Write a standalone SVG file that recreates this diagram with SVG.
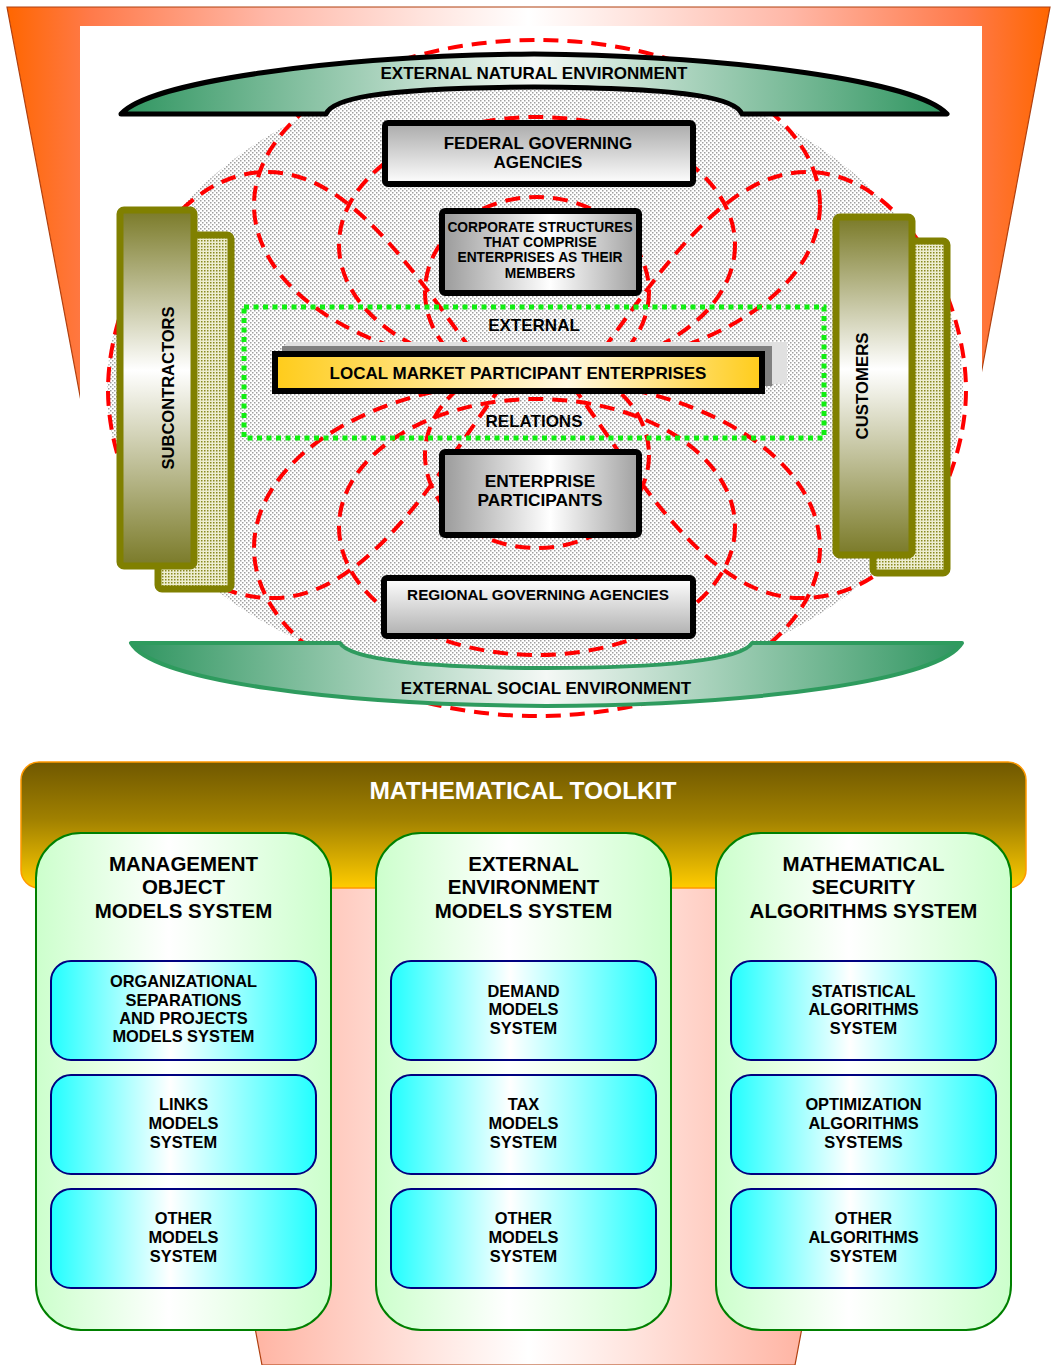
<svg xmlns="http://www.w3.org/2000/svg" width="1053" height="1365" viewBox="0 0 1053 1365">
<defs>
  <linearGradient id="gFunnel" x1="0" y1="0" x2="1" y2="0">
    <stop offset="0" stop-color="#FF6600"/>
    <stop offset="0.08" stop-color="#FF7A4A"/>
    <stop offset="0.25" stop-color="#FFB8A8"/>
    <stop offset="0.4" stop-color="#FFE4DE"/>
    <stop offset="0.5" stop-color="#FFFFFF"/>
    <stop offset="0.6" stop-color="#FFE4DE"/>
    <stop offset="0.75" stop-color="#FFB8A8"/>
    <stop offset="0.92" stop-color="#FF7A4A"/>
    <stop offset="1" stop-color="#FF6600"/>
  </linearGradient>
  <linearGradient id="gBand" x1="0" y1="0" x2="1" y2="0">
    <stop offset="0" stop-color="#2F9560"/>
    <stop offset="0.5" stop-color="#F4F8F5"/>
    <stop offset="1" stop-color="#2F9560"/>
  </linearGradient>
  <linearGradient id="gOlive" x1="0" y1="0" x2="0" y2="1">
    <stop offset="0" stop-color="#7A7A28"/>
    <stop offset="0.45" stop-color="#FFFFFF"/>
    <stop offset="1" stop-color="#7A7A28"/>
  </linearGradient>
  <linearGradient id="gGrayV" x1="0" y1="0" x2="0" y2="1">
    <stop offset="0" stop-color="#AAAAAA"/>
    <stop offset="1" stop-color="#FFFFFF"/>
  </linearGradient>
  <linearGradient id="gGrayVr" x1="0" y1="0" x2="0" y2="1">
    <stop offset="0" stop-color="#FFFFFF"/>
    <stop offset="1" stop-color="#B0B0B0"/>
  </linearGradient>
  <linearGradient id="gGrayH" x1="0" y1="0" x2="1" y2="0">
    <stop offset="0" stop-color="#9A9A9A"/>
    <stop offset="0.55" stop-color="#FFFFFF"/>
    <stop offset="1" stop-color="#A0A0A0"/>
  </linearGradient>
  <linearGradient id="gGold" x1="0" y1="0" x2="1" y2="0">
    <stop offset="0" stop-color="#FFCC1A"/>
    <stop offset="0.6" stop-color="#FFF8E0"/>
    <stop offset="1" stop-color="#FFCC1A"/>
  </linearGradient>
  <linearGradient id="gHeader" x1="0" y1="0" x2="0" y2="1">
    <stop offset="0" stop-color="#705800"/>
    <stop offset="0.45" stop-color="#A08000"/>
    <stop offset="1" stop-color="#FFCC00"/>
  </linearGradient>
  <linearGradient id="gPanel" x1="0" y1="0" x2="1" y2="0">
    <stop offset="0" stop-color="#CCFFCC"/>
    <stop offset="0.45" stop-color="#FFFFFF"/>
    <stop offset="1" stop-color="#CCFFCC"/>
  </linearGradient>
  <linearGradient id="gCyan" x1="0" y1="0" x2="1" y2="0">
    <stop offset="0" stop-color="#22FFFF"/>
    <stop offset="0.45" stop-color="#FFFFFF"/>
    <stop offset="1" stop-color="#22FFFF"/>
  </linearGradient>
  <pattern id="pDots" width="4" height="4" patternUnits="userSpaceOnUse">
    <rect width="4" height="4" fill="#FFFFFF"/>
    <rect x="0" y="0" width="1.5" height="1.5" fill="#A0A0A0"/>
    <rect x="2" y="2" width="1.5" height="1.5" fill="#A0A0A0"/>
  </pattern>
  <pattern id="pOlive" width="3" height="3" patternUnits="userSpaceOnUse">
    <rect width="3" height="3" fill="#EEEED0"/>
    <rect x="0" y="0" width="1.5" height="1.5" fill="#8A8A20"/>
  </pattern>
</defs>
<style>
  .t { font-family: "Liberation Sans", Arial, Helvetica, sans-serif; font-weight: bold; fill: #000; text-anchor: middle; }
  .dash { fill: none; stroke: #FF0000; stroke-width: 4; stroke-dasharray: 15 9; }
  .box { stroke: #000; stroke-width: 6; }
  .olive { stroke: #808000; stroke-width: 7; }
  .panel { fill: url(#gPanel); stroke: #008000; stroke-width: 2; }
  .cyan { fill: url(#gCyan); stroke: #000080; stroke-width: 2; }
</style>

<g id="background">
  <polygon points="7,7 1050,7 795,1365 262,1365" fill="url(#gFunnel)" stroke="#B04010" stroke-width="1.2"/>
  <rect x="80" y="26" width="902" height="754" fill="#FFFFFF"/>
  <path d="M 107,390 A 428,325 0 0 1 963,390 A 428,300 0 0 1 107,390 Z" fill="url(#pDots)"/>
</g>

<g id="connectors">
  <ellipse class="dash" cx="537" cy="205" rx="283" ry="165"/>
  <ellipse class="dash" cx="537" cy="548" rx="283" ry="168"/>
  <ellipse class="dash" cx="537" cy="245" rx="198" ry="128"/>
  <ellipse class="dash" cx="537" cy="527" rx="198" ry="128"/>
  <ellipse class="dash" cx="537" cy="292" rx="112" ry="95"/>
  <ellipse class="dash" cx="537" cy="455" rx="112" ry="93"/>
  <path class="dash" d="M 500,388 C 430,300 360,170 265,172 C 170,174 108,300 108,390 C 108,480 170,600 275,598 C 370,596 440,470 500,388 Z"/>
  <path class="dash" d="M 574,388 C 644,300 714,170 809,172 C 904,174 966,300 966,390 C 966,480 904,600 799,598 C 704,596 634,470 574,388 Z"/>
</g>

<g id="external-relations">
  <rect x="244" y="307" width="580" height="131" fill="none" stroke="#11EE11" stroke-width="5" stroke-dasharray="5 4.5"/>
  <text class="t" x="534" y="331" font-size="17">EXTERNAL</text>
  <text class="t" x="534" y="427" font-size="17">RELATIONS</text>
</g>

<g id="natural-environment">
  <path d="M 121,114 C 150,82 330,56 534,54 C 738,56 918,82 947,114 L 742,114 C 736,100 700,88 534,87 C 368,88 332,100 326,114 Z" fill="url(#gBand)" stroke="#000" stroke-width="5" stroke-linejoin="round"/>
  <text class="t" x="534" y="79" font-size="17">EXTERNAL NATURAL ENVIRONMENT</text>
</g>

<g id="social-environment">
  <path d="M 131,643 L 340,643 C 350,660 430,668 546,668 C 662,668 742,660 752,643 L 962,643 C 940,680 760,705 546,706 C 332,705 152,680 131,643 Z" fill="url(#gBand)" stroke="#2E9B5E" stroke-width="4" stroke-linejoin="round"/>
  <text class="t" x="546" y="694" font-size="17">EXTERNAL SOCIAL ENVIRONMENT</text>
</g>

<g id="subcontractors">
  <rect class="olive" x="158" y="235" width="73" height="354" rx="4" fill="url(#pOlive)"/>
  <rect class="olive" x="120" y="210" width="74" height="356" rx="4" fill="url(#gOlive)"/>
  <text class="t" font-size="16.5" transform="translate(168,388) rotate(-90)" y="6">SUBCONTRACTORS</text>
</g>

<g id="customers">
  <rect class="olive" x="873" y="241" width="74" height="332" rx="4" fill="url(#pOlive)"/>
  <rect class="olive" x="836" y="217" width="76" height="338" rx="4" fill="url(#gOlive)"/>
  <text class="t" font-size="16.8" transform="translate(862,386) rotate(-90)" y="6">CUSTOMERS</text>
</g>

<g id="federal">
  <rect class="box" x="385" y="123" width="308" height="61" rx="3" fill="url(#gGrayV)"/>
  <text class="t" x="538" y="149" font-size="17">FEDERAL GOVERNING</text>
  <text class="t" x="538" y="168" font-size="17">AGENCIES</text>
</g>

<g id="corporate">
  <rect class="box" x="442" y="211" width="197" height="82" rx="3" fill="url(#gGrayH)" stroke-width="5"/>
  <text class="t" x="540" y="232" font-size="13.8">CORPORATE STRUCTURES</text>
  <text class="t" x="540" y="247" font-size="13.8">THAT COMPRISE</text>
  <text class="t" x="540" y="262" font-size="13.8">ENTERPRISES AS THEIR</text>
  <text class="t" x="540" y="278" font-size="13.8">MEMBERS</text>
</g>

<g id="local-market">
  <rect x="286" y="342" width="501" height="42" fill="#E0E0E0"/>
  <rect x="282" y="346" width="490" height="40" fill="#808080"/>
  <rect class="box" x="275" y="354" width="487" height="37" fill="url(#gGold)" stroke-width="5"/>
  <text class="t" x="518" y="379" font-size="17">LOCAL MARKET PARTICIPANT ENTERPRISES</text>
</g>

<g id="enterprise-participants">
  <rect class="box" x="442" y="452" width="197" height="83" rx="3" fill="url(#gGrayH)" stroke-width="5"/>
  <text class="t" x="540" y="487" font-size="17.3">ENTERPRISE</text>
  <text class="t" x="540" y="506" font-size="17.3">PARTICIPANTS</text>
</g>

<g id="regional">
  <rect class="box" x="384" y="578" width="309" height="58" rx="3" fill="url(#gGrayVr)"/>
  <text class="t" x="538" y="600" font-size="15.3">REGIONAL GOVERNING AGENCIES</text>
</g>

<g id="toolkit">
  <rect x="21" y="762" width="1005" height="126" rx="18" fill="url(#gHeader)" stroke="#FF9900" stroke-width="1.5"/>
  <text class="t" x="523" y="799" font-size="24.5" style="fill:#FFFFFF">MATHEMATICAL TOOLKIT</text>
</g>

<g id="panel-management">
  <rect class="panel" x="36" y="833" width="295" height="497" rx="45"/>
  <text class="t" x="183.5" y="871" font-size="20.5">MANAGEMENT</text>
  <text class="t" x="183.5" y="894" font-size="20.5">OBJECT</text>
  <text class="t" x="183.5" y="918" font-size="20.5">MODELS SYSTEM</text>
</g>
<g id="box-organizational">
  <rect class="cyan" x="51" y="961" width="265" height="99" rx="20"/>
  <text class="t" x="183.5" y="987" font-size="16.4">ORGANIZATIONAL</text>
  <text class="t" x="183.5" y="1006" font-size="16.4">SEPARATIONS</text>
  <text class="t" x="183.5" y="1024" font-size="16.4">AND PROJECTS</text>
  <text class="t" x="183.5" y="1042" font-size="16.4">MODELS SYSTEM</text>
</g>
<g id="box-links">
  <rect class="cyan" x="51" y="1075" width="265" height="99" rx="20"/>
  <text class="t" x="183.5" y="1110" font-size="16.4">LINKS</text>
  <text class="t" x="183.5" y="1129" font-size="16.4">MODELS</text>
  <text class="t" x="183.5" y="1148" font-size="16.4">SYSTEM</text>
</g>
<g id="box-other-models-1">
  <rect class="cyan" x="51" y="1189" width="265" height="99" rx="20"/>
  <text class="t" x="183.5" y="1224" font-size="16.4">OTHER</text>
  <text class="t" x="183.5" y="1243" font-size="16.4">MODELS</text>
  <text class="t" x="183.5" y="1262" font-size="16.4">SYSTEM</text>
</g>

<g id="panel-external">
  <rect class="panel" x="376" y="833" width="295" height="497" rx="45"/>
  <text class="t" x="523.5" y="871" font-size="20.5">EXTERNAL</text>
  <text class="t" x="523.5" y="894" font-size="20.5">ENVIRONMENT</text>
  <text class="t" x="523.5" y="918" font-size="20.5">MODELS SYSTEM</text>
</g>
<g id="box-demand">
  <rect class="cyan" x="391" y="961" width="265" height="99" rx="20"/>
  <text class="t" x="523.5" y="997" font-size="16.4">DEMAND</text>
  <text class="t" x="523.5" y="1015" font-size="16.4">MODELS</text>
  <text class="t" x="523.5" y="1034" font-size="16.4">SYSTEM</text>
</g>
<g id="box-tax">
  <rect class="cyan" x="391" y="1075" width="265" height="99" rx="20"/>
  <text class="t" x="523.5" y="1110" font-size="16.4">TAX</text>
  <text class="t" x="523.5" y="1129" font-size="16.4">MODELS</text>
  <text class="t" x="523.5" y="1148" font-size="16.4">SYSTEM</text>
</g>
<g id="box-other-models-2">
  <rect class="cyan" x="391" y="1189" width="265" height="99" rx="20"/>
  <text class="t" x="523.5" y="1224" font-size="16.4">OTHER</text>
  <text class="t" x="523.5" y="1243" font-size="16.4">MODELS</text>
  <text class="t" x="523.5" y="1262" font-size="16.4">SYSTEM</text>
</g>

<g id="panel-security">
  <rect class="panel" x="716" y="833" width="295" height="497" rx="45"/>
  <text class="t" x="863.5" y="871" font-size="20.5">MATHEMATICAL</text>
  <text class="t" x="863.5" y="894" font-size="20.5">SECURITY</text>
  <text class="t" x="863.5" y="918" font-size="20.5">ALGORITHMS SYSTEM</text>
</g>
<g id="box-statistical">
  <rect class="cyan" x="731" y="961" width="265" height="99" rx="20"/>
  <text class="t" x="863.5" y="997" font-size="16.4">STATISTICAL</text>
  <text class="t" x="863.5" y="1015" font-size="16.4">ALGORITHMS</text>
  <text class="t" x="863.5" y="1034" font-size="16.4">SYSTEM</text>
</g>
<g id="box-optimization">
  <rect class="cyan" x="731" y="1075" width="265" height="99" rx="20"/>
  <text class="t" x="863.5" y="1110" font-size="16.4">OPTIMIZATION</text>
  <text class="t" x="863.5" y="1129" font-size="16.4">ALGORITHMS</text>
  <text class="t" x="863.5" y="1148" font-size="16.4">SYSTEMS</text>
</g>
<g id="box-other-algorithms">
  <rect class="cyan" x="731" y="1189" width="265" height="99" rx="20"/>
  <text class="t" x="863.5" y="1224" font-size="16.4">OTHER</text>
  <text class="t" x="863.5" y="1243" font-size="16.4">ALGORITHMS</text>
  <text class="t" x="863.5" y="1262" font-size="16.4">SYSTEM</text>
</g>
</svg>
